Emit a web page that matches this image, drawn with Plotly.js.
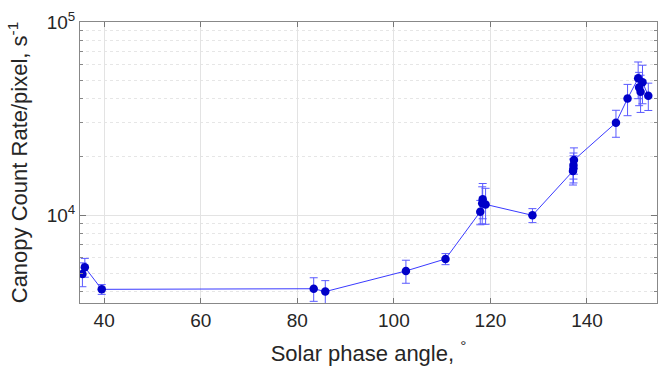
<!DOCTYPE html>
<html>
<head>
<meta charset="utf-8">
<script src="https://cdn.plot.ly/plotly-3.0.1.min.js"></script>
<style>html,body{margin:0;padding:0;background:#fff;}#chart{width:660px;height:369px;}</style>
</head>
<body>
<div id="chart"></div>
<script>
const phaseAngle = [35.5, 36.0, 39.5, 83.4, 85.8, 102.5, 110.7, 117.9, 118.3, 118.4, 119.0, 128.7, 137.1, 137.2, 137.2, 137.3, 146.0, 148.4, 150.6, 150.8, 151.1, 151.5, 152.7];
const countRate = [4950, 5360, 4120, 4150, 4010, 5130, 5920, 10400, 11500, 12060, 11350, 9960, 16900, 17460, 18150, 19270, 30080, 40100, 51060, 45840, 43500, 48700, 41500];
const countErr = [700, 600, 240, 580, 560, 700, 390, 1500, 2500, 2500, 2400, 830, 2600, 2800, 2800, 3000, 4800, 7400, 11000, 9000, 9500, 11000, 6700];
const xTicks = [40, 60, 80, 100, 120, 140];
const yMajorTicks = [1e4, 1e5];
const yMajorLabels = ['10<sup>4</sup>', '10<sup>5</sup>'];
const yMinorTicks = [4000, 5000, 6000, 7000, 8000, 9000, 20000, 30000, 40000, 50000, 60000, 70000, 80000, 90000];

const font = 'Liberation Sans, Arial, sans-serif';
const trace = {
  x: phaseAngle, y: countRate, type: 'scatter', mode: 'lines+markers',
  line: {color: '#3a3aff', width: 1},
  marker: {color: '#0000c8', size: 8.5},
  error_y: {type: 'data', array: countErr, visible: true, color: '#5a5aff', thickness: 1, width: 4}
};
const layout = {
  width: 660, height: 369,
  margin: {l: 80, r: 3, t: 22, b: 66},
  paper_bgcolor: '#fff', plot_bgcolor: '#fff',
  showlegend: false,
  font: {family: font, color: '#262626'},
  xaxis: {
    range: [35, 154.5], tickvals: xTicks, ticks: 'inside', ticklen: 5, tickcolor: '#777',
    showline: true, linecolor: '#888', linewidth: 1, mirror: 'ticks',
    showgrid: true, gridcolor: '#e3e3e3', zeroline: false,
    tickfont: {size: 19, family: font, color: '#262626'},
    title: {text: 'Solar phase angle, <sup>°</sup>', font: {size: 22, family: font, color: '#262626'}, standoff: 15}
  },
  yaxis: {
    type: 'log', range: [Math.log10(3500), 5],
    tickvals: yMajorTicks, ticktext: yMajorLabels, ticks: 'inside', ticklen: 6, tickcolor: '#777',
    showline: true, linecolor: '#888', linewidth: 1, mirror: 'ticks',
    showgrid: true, gridcolor: '#e3e3e3', zeroline: false,
    tickfont: {size: 19, family: font, color: '#262626'},
    minor: {tickvals: yMinorTicks, ticks: 'inside', ticklen: 3, tickcolor: '#888', showgrid: true, gridcolor: '#e6e6e6', griddash: 'dot'},
    title: {text: 'Canopy Count Rate/pixel, s<sup>-1</sup>', font: {size: 22, family: font, color: '#262626'}, standoff: 12}
  }
};
Plotly.newPlot('chart', [trace], layout, {staticPlot: true, displayModeBar: false});
</script>
</body>
</html>
